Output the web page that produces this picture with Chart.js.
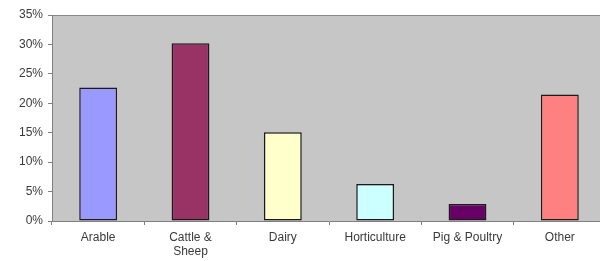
<!DOCTYPE html>
<html lang="en">
<head>
    <meta charset="utf-8" />
    <title>Farm types</title>
    <script src="https://cdn.jsdelivr.net/npm/chart.js"></script>
    <style>
        html, body { margin: 0; padding: 0; background: #fff; overflow: hidden; }
        #wrap { width: 606px; height: 261px; position: relative; }
    </style>
</head>
<body>
    <div id="wrap"><canvas id="farmChart"></canvas></div>
    <script>
        // data
        const categories = ['Arable', ['Cattle &', 'Sheep'], 'Dairy', 'Horticulture', 'Pig & Poultry', 'Other'];
        const shares = [22.7, 30.2, 15.1, 6.3, 2.9, 21.5];
        const barColors = ['#9999FF', '#993366', '#FFFFCC', '#CCFFFF', '#660066', '#FF8080'];

        // grey plot area like the old Excel charts
        const plotBg = {
            id: 'plotBg',
            beforeDraw(chart) {
                const { ctx, chartArea: a } = chart;
                ctx.save();
                ctx.fillStyle = '#C6C6C6';
                ctx.fillRect(a.left, a.top, a.right - a.left, a.bottom - a.top);
                ctx.strokeStyle = '#8a8a8a';
                ctx.lineWidth = 1;
                ctx.beginPath();
                ctx.moveTo(a.left, a.top + 0.5);
                ctx.lineTo(a.right, a.top + 0.5);
                ctx.stroke();
                ctx.restore();
            }
        };

        new Chart(document.getElementById('farmChart'), {
            type: 'bar',
            data: {
                labels: categories,
                datasets: [{
                    data: shares,
                    backgroundColor: barColors,
                    borderColor: '#1a1a1a',
                    borderWidth: 1.5,
                    borderSkipped: false,
                    categoryPercentage: 1,
                    barPercentage: 0.41
                }]
            },
            options: {
                responsive: true,
                maintainAspectRatio: false,
                animation: false,
                layout: { padding: { top: 15, left: 0, right: 0, bottom: 0 } },
                plugins: { legend: { display: false }, tooltip: { enabled: false } },
                scales: {
                    x: {
                        grid: { drawOnChartArea: false, drawTicks: true, tickLength: 4, color: '#808080' },
                        border: { color: '#808080', width: 1 },
                        ticks: { color: '#3a3a3a', font: { family: 'Liberation Sans', size: 12, lineHeight: 1.15 }, padding: 6, maxRotation: 0, autoSkip: false },
                        afterFit(s) { s.height = 40; }
                    },
                    y: {
                        min: 0,
                        max: 35,
                        grid: { drawOnChartArea: false, drawTicks: true, tickLength: 4, color: '#808080' },
                        border: { color: '#808080', width: 1 },
                        ticks: {
                            stepSize: 5,
                            color: '#3a3a3a',
                            font: { family: 'Liberation Sans', size: 12 },
                            padding: 5,
                            callback: v => v + '%'
                        },
                        afterFit(s) { s.width = 52; }
                    }
                }
            },
            plugins: [plotBg]
        });
    </script>
</body>
</html>
